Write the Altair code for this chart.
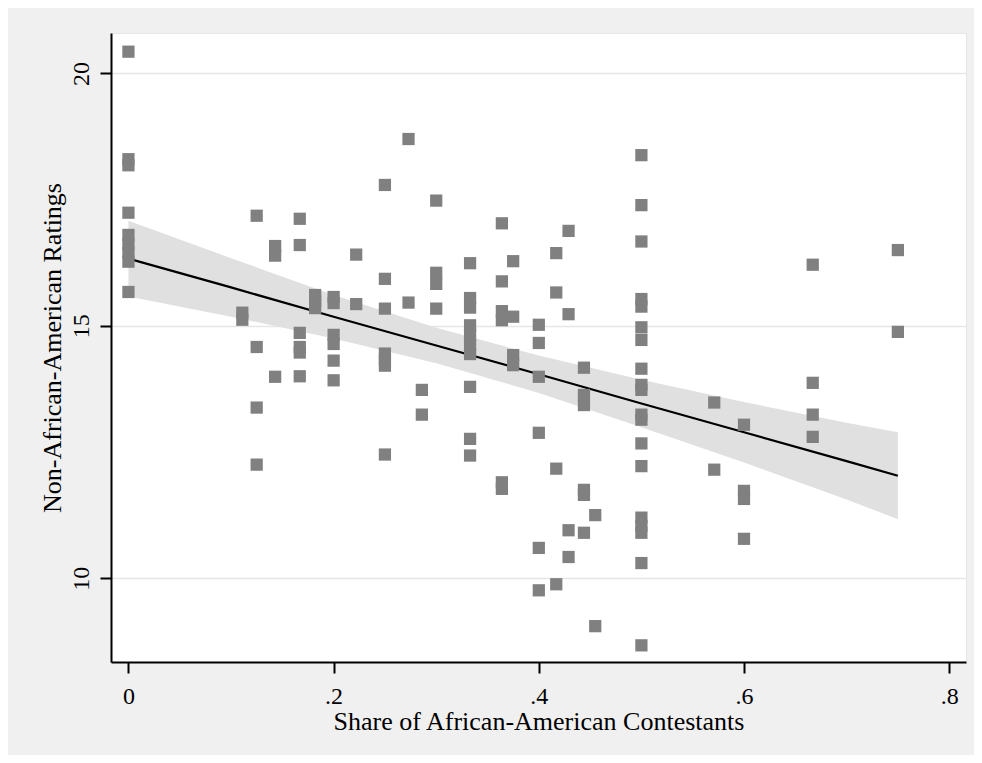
import altair as alt
import pandas as pd

# Scatter values (share of African-American contestants, non-African-American rating)
share = (
    [0.0] * 9 + [0.111] * 2 + [0.125] * 4 + [0.143] * 3 + [0.167] * 6 + [0.182] * 3
    + [0.2] * 6 + [0.222] * 2 + [0.25] * 7 + [0.273] * 2 + [0.286] * 2 + [0.3] * 4
    + [0.333] * 10 + [0.364] * 6 + [0.375] * 4 + [0.4] * 6 + [0.417] * 4 + [0.429] * 4
    + [0.444] * 6 + [0.455] * 2 + [0.5] * 19 + [0.571] * 2 + [0.6] * 4 + [0.667] * 4
    + [0.75] * 2
)
rating = [
    20.43, 18.30, 18.18, 17.24, 16.80, 16.62, 16.45, 16.27, 15.67,
    15.26, 15.12,
    17.18, 14.58, 13.38, 12.25,
    16.58, 16.39, 13.99,
    17.12, 16.60, 14.86, 14.58, 14.47, 14.00,
    15.61, 15.49, 15.35,
    15.57, 15.45, 14.82, 14.64, 14.31, 13.92,
    16.41, 15.43,
    17.79, 15.93, 15.34, 14.45, 14.33, 14.21, 12.45,
    18.70, 15.46,
    13.73, 13.24,
    17.48, 16.05, 15.83, 15.34,
    16.24, 15.55, 15.36, 15.01, 14.82, 14.62, 14.44, 13.79, 12.76, 12.43,
    17.03, 15.88, 15.29, 15.11, 11.90, 11.77,
    16.28, 15.18, 14.42, 14.22,
    15.02, 14.66, 13.99, 12.88, 10.60, 9.76,
    16.44, 15.66, 12.17, 9.88,
    16.88, 15.23, 10.95, 10.42,
    14.17, 13.63, 13.43, 11.75, 11.65, 10.90,
    11.25, 9.05,
    18.38, 17.39, 16.67, 15.53, 15.38, 14.97, 14.72, 14.15, 13.83, 13.73,
    13.24, 13.14, 12.67, 12.22, 11.20, 11.04, 10.90, 10.30, 8.67,
    13.48, 12.15,
    13.04, 11.73, 11.57, 10.78,
    16.21, 13.87, 13.24, 12.80,
    16.50, 14.88,
]

# Fitted line and confidence band
fit_share = [0.0, 0.1, 0.2, 0.3, 0.4, 0.5, 0.6, 0.7, 0.75]
fit_value = [16.33, 15.76, 15.18, 14.61, 14.04, 13.46, 12.89, 12.32, 12.03]
ci_lower = [15.58, 15.18, 14.75, 14.26, 13.67, 12.99, 12.29, 11.56, 11.17]
ci_upper = [17.08, 16.34, 15.61, 14.96, 14.41, 13.93, 13.49, 13.08, 12.89]

x_ticks = [0, 0.2, 0.4, 0.6, 0.8]
y_ticks = [10, 15, 20]

pts = pd.DataFrame({"share": share, "rating": rating})
fit = pd.DataFrame({"share": fit_share, "fit": fit_value, "lo": ci_lower, "hi": ci_upper})

FONT = "Liberation Serif"

xscale = alt.Scale(domain=[-0.017, 0.8164], nice=False, zero=False)
yscale = alt.Scale(domain=[8.34, 20.80], nice=False, zero=False)

xaxis = alt.Axis(
    values=x_ticks,
    labelExpr="datum.value == 0 ? '0' : '.' + format(datum.value * 10, 'd')",
    title="Share of African-American Contestants",
    grid=False,
    tickSize=11,
    labelPadding=11,
    titleY=67,
    titleBaseline="alphabetic",
)
yaxis = alt.Axis(
    values=y_ticks,
    title="Non-African-American Ratings",
    grid=True,
    tickSize=11,
    labelAngle=-90,
    labelAlign="center",
    labelBaseline="alphabetic",
    labelPadding=12,
    titleAngle=-90,
    titleX=-51,
    titleY=314.5,
    titleAlign="center",
    titleBaseline="alphabetic",
)

band = alt.Chart(fit).mark_area(color="#e0e0e0", opacity=1).encode(
    x=alt.X("share:Q", scale=xscale, axis=xaxis),
    y=alt.Y("lo:Q", scale=yscale, axis=yaxis),
    y2="hi:Q",
)
line = alt.Chart(fit).mark_line(color="black", strokeWidth=2.2).encode(
    x=alt.X("share:Q", scale=xscale),
    y=alt.Y("fit:Q", scale=yscale),
)
points = alt.Chart(pts).mark_point(
    shape="square", filled=True, color="#808080", opacity=1, size=150
).encode(
    x=alt.X("share:Q", scale=xscale),
    y=alt.Y("rating:Q", scale=yscale),
)

chart = (
    alt.layer(band, line, points)
    .properties(
        width=855,
        height=629,
        autosize=alt.AutoSizeParams(type="none"),
        padding={"left": 103, "top": 25, "right": 8, "bottom": 93},
        background="#f0f0f0",
    )
    .configure_view(fill="white", stroke="#e6e6e6", strokeWidth=1)
    .configure_axis(
        domainColor="black",
        domainWidth=2,
        tickColor="black",
        tickWidth=2,
        gridColor="#e6e6e6",
        gridWidth=1.5,
        labelFont=FONT,
        labelFontSize=24,
        labelColor="black",
        titleFont=FONT,
        titleFontSize=26,
        titleFontWeight="normal",
        titleColor="black",
    )
)

chart.save("out.html", embed_options={"renderer": "svg", "actions": False})
